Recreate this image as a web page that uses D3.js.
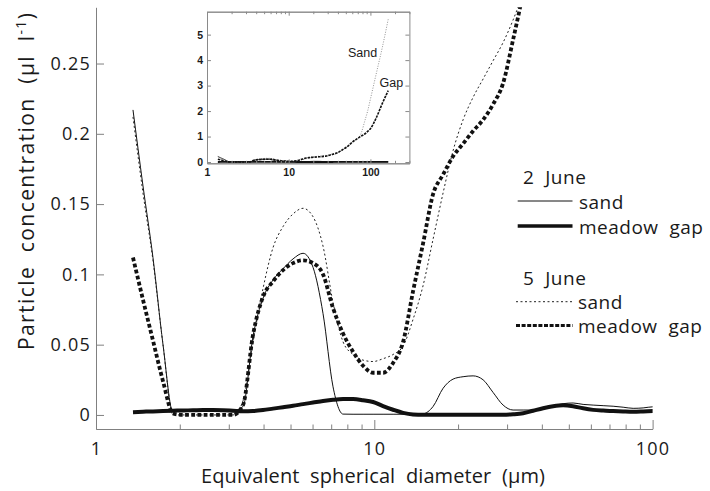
<!DOCTYPE html>
<html>
<head>
<meta charset="utf-8">
<script src="https://cdn.jsdelivr.net/npm/d3@7"></script>
<style>
  body { margin: 0; background: #fff; }
  svg { display: block; font-family: "Open Sans", sans-serif; }
  .axis path, .axis line { stroke: #808080; stroke-width: 1; }
  .axis text { fill: #1a1a1a; }
  .inset .axis path, .inset .axis line { stroke: #8a8a8a; }
  .inset .axis text { font-family: "Liberation Sans", Arial, sans-serif; font-weight: bold; font-size: 10.5px; }
</style>
</head>
<body>
<div id="chart"></div>
<script>
// Channel diameters (µm), log spaced
const diameters = [1.358, 1.475, 1.602, 1.741, 1.891, 2.054, 2.231, 2.424, 2.633, 2.860,
                   3.107, 3.375, 3.666, 3.983, 4.326, 4.700, 5.105, 5.546, 6.024, 6.544,
                   7.108, 7.722, 8.388, 9.112, 9.898, 10.75, 11.68, 12.69, 13.78, 14.97,
                   16.26, 17.67, 19.19, 20.85, 22.65, 24.60, 26.72, 29.03, 31.53, 34.25,
                   37.21, 40.42, 43.91, 47.70, 51.81, 56.28, 61.14, 66.41, 72.14, 78.37,
                   85.13, 92.48, 100.5, 118.5, 139.9, 165.1];

// Particle concentration (µl/l) per channel
const sandJune2 = [0.217, 0.163, 0.112, 0.050, 0.002, 0.003, 0.003, 0.003, 0.003, 0.003,
                   0.003, 0.006, 0.056, 0.083, 0.096, 0.104, 0.111, 0.115, 0.105, 0.072,
                   0.020, 0.0006, 0.0005, 0.0005, 0.0005, 0.0005, 0.0005, 0.0005, 0.0005, 0.0008,
                   0.006, 0.019, 0.0255, 0.0272, 0.0278, 0.025, 0.016, 0.007, 0.0035, 0.0035,
                   0.0035, 0.005, 0.0065, 0.008, 0.0085, 0.0075, 0.007, 0.0066, 0.0062, 0.0055,
                   0.0047, 0.005, 0.0058, 0.005, 0.005, 0.005];
const gapJune2  = [0.002, 0.0023, 0.0025, 0.0028, 0.003, 0.0032, 0.0033, 0.0035, 0.0035, 0.0034,
                   0.003, 0.0026, 0.0028, 0.0035, 0.0045, 0.0055, 0.0065, 0.0077, 0.0088, 0.0099,
                   0.0108, 0.0113, 0.0113, 0.0105, 0.0092, 0.0063, 0.0037, 0.0015, 0.0004, 0.0002,
                   0.0002, 0.0002, 0.0002, 0.0002, 0.0002, 0.0002, 0.0002, 0.0002, 0.0005, 0.0012,
                   0.003, 0.0048, 0.0062, 0.0069, 0.0062, 0.0047, 0.0036, 0.0031, 0.0028, 0.0025,
                   0.0023, 0.0025, 0.0028, 0.003, 0.003, 0.003];
const sandJune5 = [0.212, 0.158, 0.110, 0.050, 0.0, 0.0, 0.0, 0.0, 0.0, 0.0,
                   0.0, 0.010, 0.052, 0.090, 0.119, 0.134, 0.143, 0.147, 0.141, 0.120,
                   0.080, 0.052, 0.043, 0.039, 0.038, 0.040, 0.043, 0.049, 0.068, 0.092,
                   0.125, 0.158, 0.188, 0.210, 0.226, 0.239, 0.252, 0.265, 0.281, 0.300,
                   0.32, 0.37, 0.44, 0.52, 0.60, 0.70, 0.80, 0.88, 0.96, 1.2,
                   1.6, 2.0, 2.5, 3.5, 4.5, 5.6];
const gapJune5  = [0.112, 0.082, 0.053, 0.024, 0.001, 0.0, 0.0, 0.0, 0.0, 0.0,
                   0.0, 0.007, 0.057, 0.084, 0.095, 0.103, 0.108, 0.110, 0.108, 0.100,
                   0.076, 0.058, 0.045, 0.035, 0.030, 0.030, 0.037, 0.052, 0.088, 0.122,
                   0.157, 0.171, 0.184, 0.193, 0.202, 0.210, 0.221, 0.236, 0.267, 0.300,
                   0.335, 0.38, 0.45, 0.52, 0.60, 0.70, 0.80, 0.88, 0.96, 1.03,
                   1.10, 1.20, 1.32, 1.75, 2.30, 2.80];

// Ticks and labels
const yTicks = [0, 0.05, 0.1, 0.15, 0.2, 0.25];
const xTicks = [1, 10, 100];
const insetYTicks = [0, 1, 2, 3, 4, 5];
const insetXTicks = [1, 10, 100];
const legendDates = ['2  June', '5  June'];
const legendSites = ['sand', 'meadow  gap'];
const insetLabels = ['Sand', 'Gap'];

const width = 710, height = 491;

let svg = d3.select('#chart').append('svg')
    .attr('width', width)
    .attr('height', height);

// Line styles for the main panel
const mainStyle = {
    sandJune2: {width: 1, dash: null, color: '#111'},
    gapJune2:  {width: 4, dash: null, color: '#111'},
    sandJune5: {width: 1, dash: '2,2.5', color: '#222'},
    gapJune5:  {width: 3.8, dash: '3.8,2.4', color: '#111'}
};
// Thinner versions for the inset
const insetStyle = {
    sandJune2: {width: 0.8, dash: null, color: '#111'},
    gapJune2:  {width: 1.8, dash: null, color: '#111'},
    sandJune5: {width: 0.8, dash: '1,1.5', color: '#777'},
    gapJune5:  {width: 1.6, dash: '2.5,1', color: '#111'}
};

const series = [
    {key: 'sandJune2', values: sandJune2},
    {key: 'gapJune2', values: gapJune2},
    {key: 'sandJune5', values: sandJune5},
    {key: 'gapJune5', values: gapJune5}
];

// ---- Main panel ----
let x = d3.scaleLog().domain([1, 100]).range([96, 652.6]);
let y = d3.scaleLinear().domain([-0.01, 0.29]).range([429, 7.3]);

svg.append('clipPath').attr('id', 'mainClip')
    .append('rect')
    .attr('x', x.range()[0]).attr('y', y.range()[1])
    .attr('width', x.range()[1] - x.range()[0])
    .attr('height', y.range()[0] - y.range()[1]);

let line = d3.line()
    .x((d, i) => x(diameters[i]))
    .y(d => y(d))
    .curve(d3.curveMonotoneX);

svg.append('g')
    .attr('clip-path', 'url(#mainClip)')
    .selectAll('path')
    .data(series)
    .enter().append('path')
    .attr('d', d => line(d.values))
    .attr('fill', 'none')
    .attr('stroke', d => mainStyle[d.key].color)
    .attr('stroke-width', d => mainStyle[d.key].width)
    .attr('stroke-dasharray', d => mainStyle[d.key].dash)
    .attr('stroke-linejoin', 'round');

// Minor x ticks (2..9, 20..90)
let minorX = x.ticks().filter(t => !xTicks.includes(t));
svg.append('g')
    .attr('class', 'axis')
    .attr('transform', 'translate(0,' + y.range()[0] + ')')
    .call(d3.axisBottom(x).tickValues(minorX).tickSize(-4.5).tickSizeOuter(0).tickFormat(''));

// Major x ticks with labels
let xAxis = svg.append('g')
    .attr('class', 'axis')
    .attr('transform', 'translate(0,' + y.range()[0] + ')')
    .call(d3.axisBottom(x).tickValues(xTicks).tickSize(-9).tickSizeOuter(0)
        .tickPadding(13).tickFormat(d3.format('d')));
xAxis.selectAll('text')
    .style('font-family', '"Open Sans", sans-serif')
    .style('font-size', '18px')
    .style('letter-spacing', '1.2px');

// y axis, ticks pointing into the plot
let yAxis = svg.append('g')
    .attr('class', 'axis')
    .attr('transform', 'translate(' + x.range()[0] + ',0)')
    .call(d3.axisLeft(y).tickValues(yTicks).tickSize(-8).tickSizeOuter(0)
        .tickPadding(5).tickFormat(d => String(d)));
yAxis.selectAll('text')
    .style('font-family', '"Open Sans", sans-serif')
    .style('font-size', '18px')
    .style('letter-spacing', '1.2px');

// Axis titles
svg.append('text')
    .attr('x', 373)
    .attr('y', 482.5)
    .attr('text-anchor', 'middle')
    .attr('textLength', 344)
    .attr('lengthAdjust', 'spacing')
    .style('white-space', 'pre')
    .style('font-size', '20px')
    .style('fill', '#1a1a1a')
    .text('Equivalent  spherical  diameter  (\u00b5m)');

let yTitle = svg.append('text')
    .attr('transform', 'translate(34,181.5) rotate(-90)')
    .attr('text-anchor', 'middle')
    .attr('textLength', 337)
    .attr('lengthAdjust', 'spacing')
    .style('white-space', 'pre')
    .style('font-size', '21px')
    .style('fill', '#1a1a1a');
yTitle.append('tspan').text('Particle  concentration  (\u00b5l  l');
yTitle.append('tspan').attr('dy', -8).style('font-size', '14px').text('-1');
yTitle.append('tspan').attr('dy', 8).text(')');

// ---- Legend ----
let legend = svg.append('g').style('font-size', '19px').style('fill', '#1a1a1a');
let legendRows = [
    {key: 'sandJune2', label: legendSites[0]},
    {key: 'gapJune2', label: legendSites[1]},
    {key: 'sandJune5', label: legendSites[0]},
    {key: 'gapJune5', label: legendSites[1]}
];
const legendTitleY = [183.5, 285];
const legendLineY = [201, 226, 301.7, 325.5];
const legendDashes = {sandJune5: '2,2.5', gapJune5: '4,1.6'};

legendDates.forEach((t, i) => {
    legend.append('text')
        .attr('x', 523)
        .attr('y', legendTitleY[i])
        .style('white-space', 'pre')
        .style('letter-spacing', '0.5px')
        .text(t);
});
legendRows.forEach((r, i) => {
    let x0 = i < 2 ? 517.7 : 516;
    legend.append('line')
        .attr('x1', x0).attr('x2', 572.5)
        .attr('y1', legendLineY[i]).attr('y2', legendLineY[i])
        .attr('stroke', mainStyle[r.key].color)
        .attr('stroke-width', r.key === 'gapJune5' ? 3 : (r.key === 'gapJune2' ? 3.5 : 1))
        .attr('stroke-dasharray', legendDashes[r.key] || null);
    legend.append('text')
        .attr('x', i < 2 ? 579 : 578)
        .attr('y', legendLineY[i] + 7.5)
        .style('white-space', 'pre')
        .style('letter-spacing', '0.5px')
        .text(r.label);
});

// ---- Inset: full size range ----
let inset = svg.append('g').attr('class', 'inset');
let xi = d3.scaleLog().domain([1, 300]).range([207, 409.4]);
let yi = d3.scaleLinear().domain([-0.05, 5.9]).range([163.3, 11.7]);

inset.append('rect')
    .attr('x', xi.range()[0]).attr('y', yi.range()[1])
    .attr('width', xi.range()[1] - xi.range()[0])
    .attr('height', yi.range()[0] - yi.range()[1])
    .attr('fill', '#fff');

svg.append('clipPath').attr('id', 'insetClip')
    .append('rect')
    .attr('x', xi.range()[0]).attr('y', yi.range()[1])
    .attr('width', xi.range()[1] - xi.range()[0])
    .attr('height', yi.range()[0] - yi.range()[1]);

let insetLine = d3.line()
    .x((d, i) => xi(diameters[i]))
    .y(d => yi(d))
    .curve(d3.curveMonotoneX);

inset.append('g')
    .attr('clip-path', 'url(#insetClip)')
    .selectAll('path')
    .data(series)
    .enter().append('path')
    .attr('d', d => insetLine(d.values))
    .attr('fill', 'none')
    .attr('stroke', d => insetStyle[d.key].color)
    .attr('stroke-width', d => insetStyle[d.key].width)
    .attr('stroke-dasharray', d => insetStyle[d.key].dash);

// Box with inward ticks on every side
let minorXi = xi.ticks().filter(t => !insetXTicks.includes(t));
[['bottom', yi.range()[0]], ['top', yi.range()[1]]].forEach(([side, pos]) => {
    let make = side === 'bottom' ? d3.axisBottom : d3.axisTop;
    inset.append('g').attr('class', 'axis')
        .attr('transform', 'translate(0,' + pos + ')')
        .call(make(xi).tickValues(minorXi).tickSize(-2.5).tickSizeOuter(0).tickFormat(''));
    inset.append('g').attr('class', 'axis')
        .attr('transform', 'translate(0,' + pos + ')')
        .call(make(xi).tickValues(insetXTicks).tickSize(-4).tickSizeOuter(0).tickPadding(5)
            .tickFormat(side === 'bottom' ? d3.format('d') : ''));
});
[['left', xi.range()[0]], ['right', xi.range()[1]]].forEach(([side, pos]) => {
    let make = side === 'left' ? d3.axisLeft : d3.axisRight;
    inset.append('g').attr('class', 'axis')
        .attr('transform', 'translate(' + pos + ',0)')
        .call(make(yi).tickValues(insetYTicks).tickSize(-4).tickSizeOuter(0).tickPadding(4)
            .tickFormat(side === 'left' ? d3.format('d') : ''));
});

// Curve labels in the inset
const insetLabelPos = [[348, 57], [379.5, 87]];
insetLabels.forEach((t, i) => {
    inset.append('text')
        .attr('x', insetLabelPos[i][0])
        .attr('y', insetLabelPos[i][1])
        .style('font-family', '"Liberation Sans", Arial, sans-serif')
        .style('font-size', '12.5px')
        .style('fill', '#1a1a1a')
        .text(t);
});
</script>
</body>
</html>
